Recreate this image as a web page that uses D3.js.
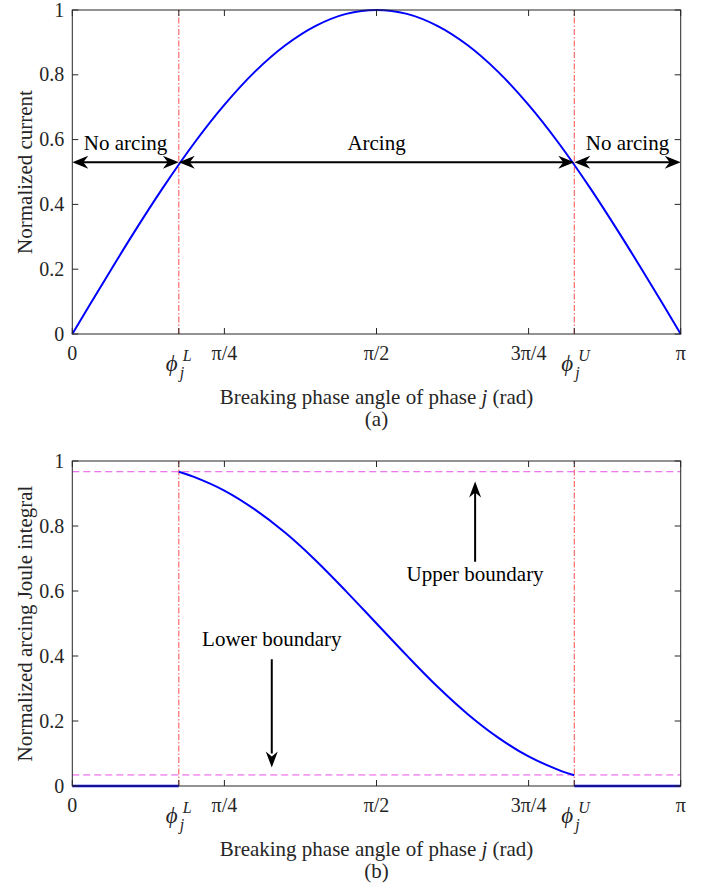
<!DOCTYPE html>
<html>
<head>
<meta charset="utf-8">
<script src="https://cdn.jsdelivr.net/npm/d3@7"></script>
<style>
  body { margin: 0; background: #fff; }
  text { font-family: "Liberation Serif", "Times New Roman", serif; fill: #262626; }
</style>
</head>
<body>
<div id="chart-container"></div>
<script>
// breaking phase boundaries (rad)
const phiL = 0.55;
const phiU = 2.592;

// x ticks
const xTickVals = [0, phiL, Math.PI / 4, Math.PI / 2, 3 * Math.PI / 4, phiU, Math.PI];
const xTickLabels = ["0", "phiL", "π/4", "π/2", "3π/4", "phiU", "π"];
const yTickVals = [0, 0.2, 0.4, 0.6, 0.8, 1];
const yTickLabels = ["0", "0.2", "0.4", "0.6", "0.8", "1"];

// (a) normalized current, sampled every π/20
const currentX = [0, 0.157, 0.314, 0.471, 0.628, 0.785, 0.942, 1.1, 1.257, 1.414, 1.571,
                  1.728, 1.885, 2.042, 2.199, 2.356, 2.513, 2.67, 2.827, 2.985, 3.1416];
const currentY = [0, 0.156, 0.309, 0.454, 0.588, 0.707, 0.809, 0.891, 0.951, 0.988, 1,
                  0.988, 0.951, 0.891, 0.809, 0.707, 0.588, 0.454, 0.309, 0.156, 0];
const arrowLevel = 0.53;

// (b) normalized arcing Joule integral
const jouleX = [0.55, 0.628, 0.785, 0.942, 1.1, 1.257, 1.414, 1.571, 1.728, 1.885, 2.042, 2.199, 2.356, 2.513, 2.592];
const jouleY = [0.967, 0.951, 0.909, 0.851, 0.779, 0.694, 0.599, 0.5, 0.401, 0.306, 0.221, 0.149, 0.091, 0.049, 0.033];
const upperBound = 0.967;
const lowerBound = 0.034;

let svgWidth = 708;
let svgHeight = 891;

let svg = d3.select('#chart-container')
  .append('svg')
  .attr('width', svgWidth)
  .attr('height', svgHeight);

let xScale = d3.scaleLinear().domain([0, Math.PI]).range([72.3, 680.7]);

function arrowHead(g, x, y, angle, w) {
  // filled head with a notch, tip at (x, y), angle in degrees
  w = w || 6.5;
  g.append("path")
    .attr("d", `M0,0 L-16,${-w} L-11,0 L-16,${w} Z`)
    .attr("transform", `translate(${x},${y}) rotate(${angle})`)
    .attr("fill", "#000");
}

function drawPanel(top, bottom, opts) {
  let yScale = d3.scaleLinear().domain([0, 1]).range([bottom, top]);
  let g = svg.append("g");
  let x0 = xScale.range()[0], x1 = xScale.range()[1];

  // red dash-dot boundaries
  [phiL, phiU].forEach(p => {
    g.append("line")
      .attr("x1", xScale(p)).attr("x2", xScale(p))
      .attr("y1", yScale(0)).attr("y2", yScale(1))
      .attr("stroke", "#ff4d4d").attr("stroke-width", 1)
      .attr("stroke-dasharray", "6,2,1.5,2");
  });

  opts.extra(g, yScale);

  // box
  g.append("rect")
    .attr("x", x0).attr("y", top)
    .attr("width", x1 - x0).attr("height", bottom - top)
    .attr("fill", "none").attr("stroke", "#262626").attr("stroke-width", 1);

  // ticks (inward, both sides)
  xTickVals.forEach(v => {
    g.append("line").attr("x1", xScale(v)).attr("x2", xScale(v))
      .attr("y1", bottom).attr("y2", bottom - 6).attr("stroke", "#262626");
    g.append("line").attr("x1", xScale(v)).attr("x2", xScale(v))
      .attr("y1", top).attr("y2", top + 6).attr("stroke", "#262626");
  });
  yTickVals.forEach(v => {
    g.append("line").attr("x1", x0).attr("x2", x0 + 6)
      .attr("y1", yScale(v)).attr("y2", yScale(v)).attr("stroke", "#262626");
    g.append("line").attr("x1", x1).attr("x2", x1 - 6)
      .attr("y1", yScale(v)).attr("y2", yScale(v)).attr("stroke", "#262626");
  });

  // x tick labels
  xTickVals.forEach((v, i) => {
    let lab = xTickLabels[i];
    let x = xScale(v);
    if (lab == "phiL" || lab == "phiU") {
      g.append("text").attr("x", x - 7).attr("y", bottom + 37)
        .attr("text-anchor", "middle").style("font-size", "23px").style("font-style", "italic")
        .text("ϕ");
      g.append("text").attr("x", x + 4).attr("y", bottom + 27)
        .style("font-size", "16px").style("font-style", "italic")
        .text(lab == "phiL" ? "L" : "U");
      g.append("text").attr("x", x + 1).attr("y", bottom + 44)
        .style("font-size", "16px").style("font-style", "italic")
        .text("j");
    } else {
      g.append("text").attr("x", x).attr("y", bottom + 26)
        .attr("text-anchor", "middle").style("font-size", "20px")
        .text(lab);
    }
  });

  // y tick labels
  yTickVals.forEach((v, i) => {
    g.append("text").attr("x", x0 - 8).attr("y", yScale(v) + 6.5)
      .attr("text-anchor", "end").style("font-size", "20px")
      .text(yTickLabels[i]);
  });

  // axis labels
  let xl = g.append("text").attr("x", (x0 + x1) / 2).attr("y", bottom + 70)
    .attr("text-anchor", "middle").style("font-size", "21px");
  xl.append("tspan").text("Breaking phase angle of phase ");
  xl.append("tspan").style("font-style", "italic").text("j");
  xl.append("tspan").text(" (rad)");

  g.append("text")
    .attr("transform", `translate(32,${(top + bottom) / 2}) rotate(-90)`)
    .attr("text-anchor", "middle").style("font-size", "21px")
    .text(opts.yLabel);

  g.append("text").attr("x", (x0 + x1) / 2).attr("y", bottom + 92)
    .attr("text-anchor", "middle").style("font-size", "21px")
    .text(opts.caption);
}

// panel (a)
drawPanel(10, 334, {
  yLabel: "Normalized current",
  caption: "(a)",
  extra: function(g, yScale) {
    let line = d3.line()
      .x((d, i) => xScale(currentX[i]))
      .y((d, i) => yScale(currentY[i]))
      .curve(d3.curveCatmullRom);
    g.append("path").datum(currentX)
      .attr("d", line)
      .attr("fill", "none").attr("stroke", "#0000ff").attr("stroke-width", 2);

    let ay = yScale(arrowLevel);
    let segs = [[0, phiL, "No arcing"], [phiL, phiU, "Arcing"], [phiU, Math.PI, "No arcing"]];
    segs.forEach(s => {
      let xa = xScale(s[0]), xb = xScale(s[1]);
      g.append("line").attr("x1", xa + 4).attr("x2", xb - 4)
        .attr("y1", ay).attr("y2", ay)
        .attr("stroke", "#000").attr("stroke-width", 2);
      arrowHead(g, xa, ay, 180);
      arrowHead(g, xb, ay, 0);
      g.append("text").attr("x", (xa + xb) / 2).attr("y", ay - 12)
        .attr("text-anchor", "middle").style("font-size", "21px").style("fill", "#000")
        .text(s[2]);
    });
  }
});

// panel (b)
drawPanel(461, 786, {
  yLabel: "Normalized arcing Joule integral",
  caption: "(b)",
  extra: function(g, yScale) {
    [upperBound, lowerBound].forEach(b => {
      g.append("line")
        .attr("x1", xScale(0)).attr("x2", xScale(Math.PI))
        .attr("y1", yScale(b)).attr("y2", yScale(b))
        .attr("stroke", "#e84fe8").attr("stroke-width", 1)
        .attr("stroke-dasharray", "7,4");
    });

    // zero parts
    [[0, phiL], [phiU, Math.PI]].forEach(s => {
      g.append("line")
        .attr("x1", xScale(s[0])).attr("x2", xScale(s[1]))
        .attr("y1", yScale(0)).attr("y2", yScale(0))
        .attr("stroke", "#0000ff").attr("stroke-width", 2.5);
    });

    let line = d3.line()
      .x((d, i) => xScale(jouleX[i]))
      .y((d, i) => yScale(jouleY[i]))
      .curve(d3.curveCatmullRom);
    g.append("path").datum(jouleX)
      .attr("d", line)
      .attr("fill", "none").attr("stroke", "#0000ff").attr("stroke-width", 2);

    // upper boundary annotation
    let ux = xScale(2.08);
    g.append("line").attr("x1", ux).attr("x2", ux)
      .attr("y1", yScale(0.69)).attr("y2", yScale(0.91))
      .attr("stroke", "#000").attr("stroke-width", 2);
    arrowHead(g, ux, yScale(0.937), -90, 6);
    g.append("text").attr("x", ux).attr("y", yScale(0.63))
      .attr("text-anchor", "middle").style("font-size", "21px").style("fill", "#000")
      .text("Upper boundary");

    // lower boundary annotation
    let lx = xScale(1.03);
    g.append("line").attr("x1", lx).attr("x2", lx)
      .attr("y1", yScale(0.39)).attr("y2", yScale(0.1))
      .attr("stroke", "#000").attr("stroke-width", 2);
    arrowHead(g, lx, yScale(0.057), 90, 6);
    g.append("text").attr("x", lx).attr("y", yScale(0.43))
      .attr("text-anchor", "middle").style("font-size", "21px").style("fill", "#000")
      .text("Lower boundary");
  }
});
</script>
</body>
</html>
